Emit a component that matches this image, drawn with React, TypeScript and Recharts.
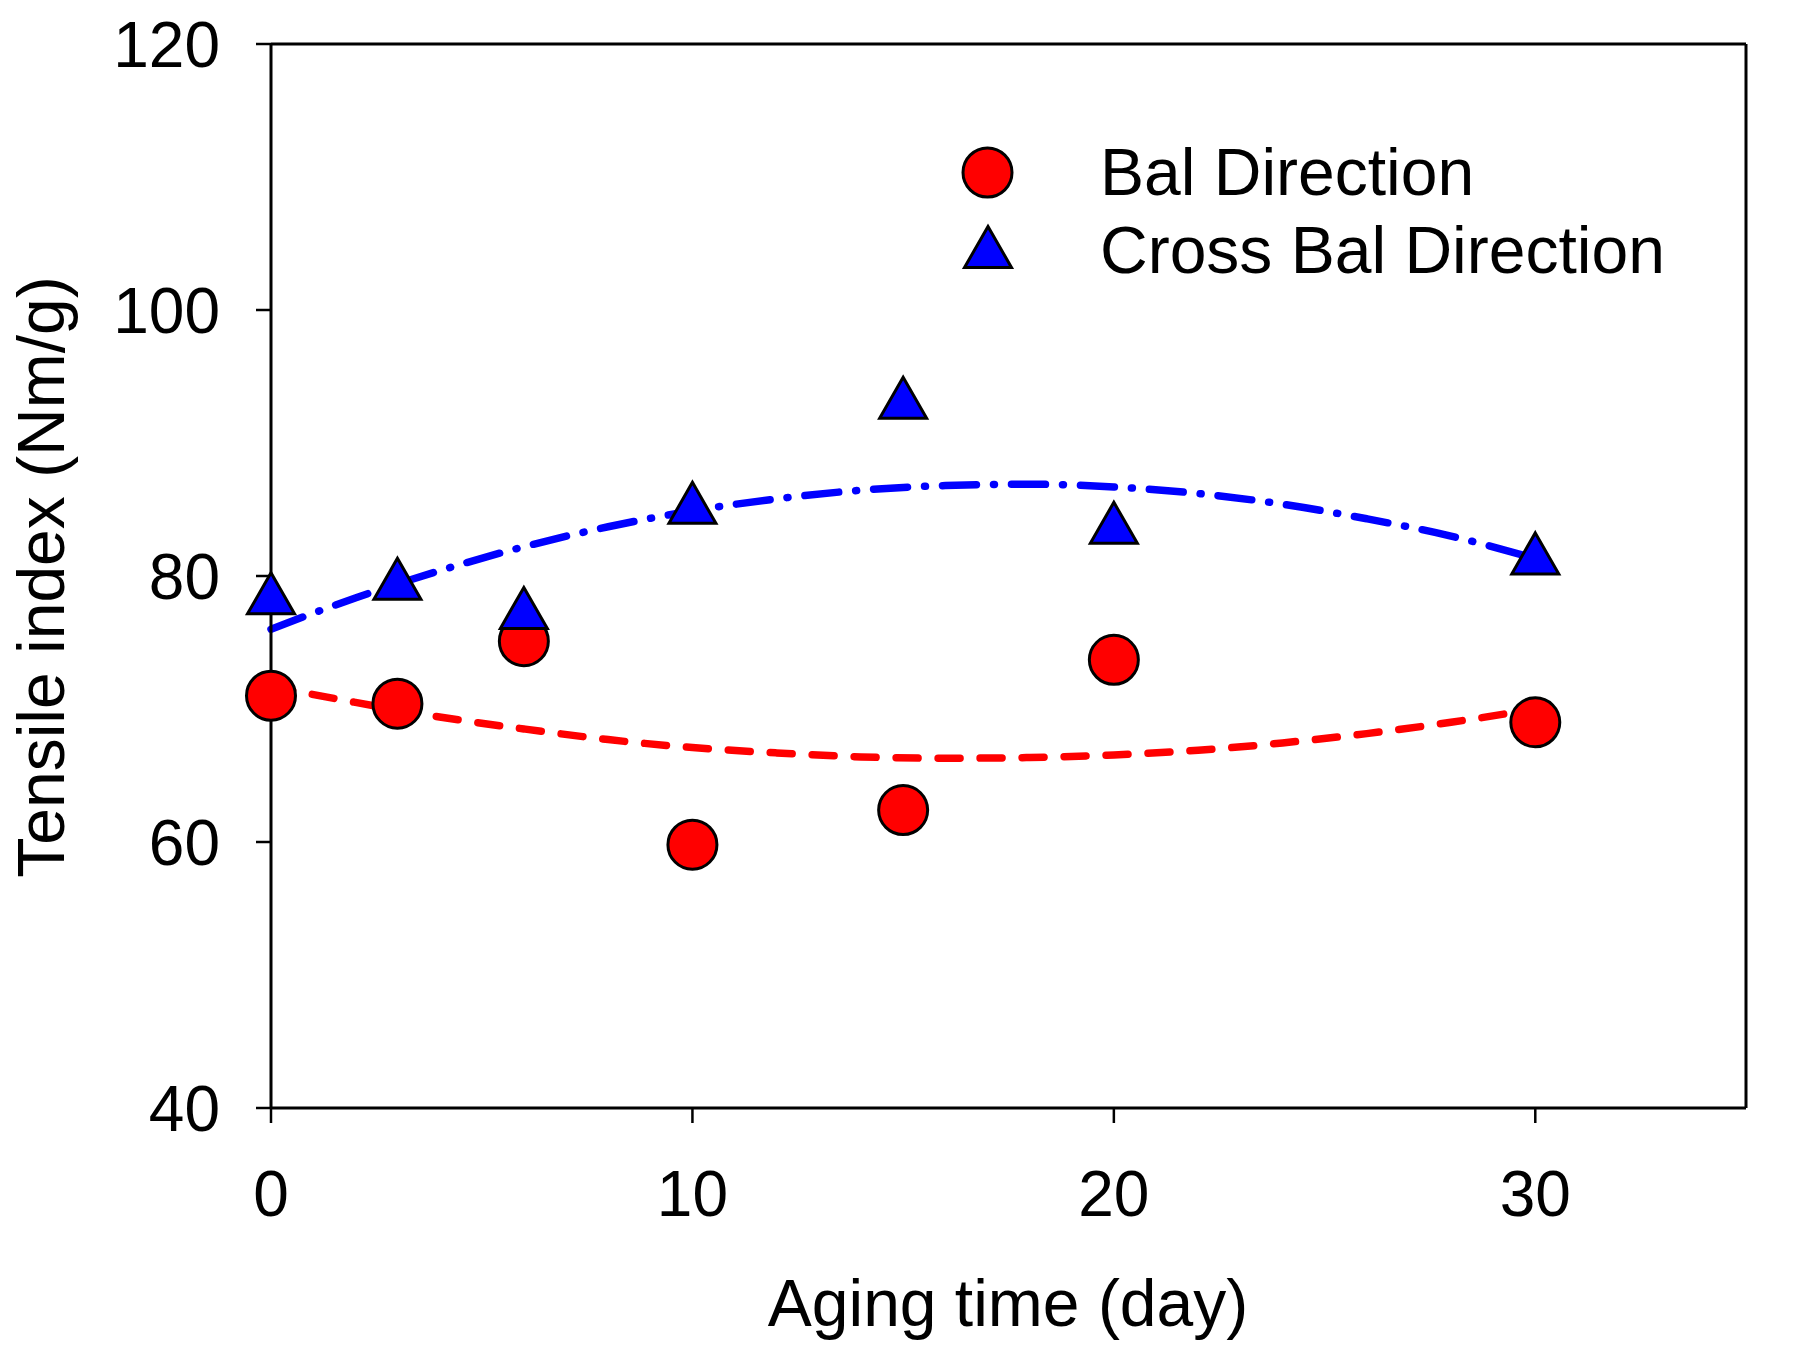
import React from 'react';
import { ComposedChart, XAxis, YAxis, Scatter, Line, ReferenceLine } from 'recharts';

const FONT = '"Liberation Sans", Arial, Helvetica, sans-serif';

// measured points
const agingDays = [0, 3, 6, 10, 15, 20, 30];
const balDirection = [71.0, 70.4, 75.1, 59.8, 62.4, 73.7, 69.0];
const crossBalDirection = [78.7, 79.8, 77.6, 85.5, 93.4, 84.0, 81.7];

// fitted curves
const fitDays = [0, 2, 4, 6, 8, 10, 12, 14, 16, 18, 20, 22, 24, 26, 28, 30];
const balFit = [71.7, 70.5, 69.4, 68.5, 67.7, 67.1, 66.7, 66.4, 66.3, 66.35, 66.55, 66.9, 67.45, 68.15, 69.0, 70.0];
const crossFit = [76.0, 78.35, 80.4, 82.2, 83.7, 84.9, 85.8, 86.45, 86.8, 86.9, 86.7, 86.2, 85.4, 84.3, 83.0, 81.3];

const xTicks = [0, 10, 20, 30];
const yTicks = [40, 60, 80, 100, 120];

const balPoints = agingDays.map((x, i) => ({ x, y: balDirection[i] }));
const crossPoints = agingDays.map((x, i) => ({ x, y: crossBalDirection[i] }));
const balFitPts = fitDays.map((x, i) => ({ x, y: balFit[i] }));
const crossFitPts = fitDays.map((x, i) => ({ x, y: crossFit[i] }));

const CircleShape = (props: any) => {
  const { cx, cy } = props;
  return <circle cx={cx} cy={cy} r={24.5} fill="#ff0000" stroke="#000" strokeWidth={3} />;
};

const triPath = (cx: number, cy: number) =>
  `M${cx},${cy - 20.5} L${cx + 23.5},${cy + 20.5} L${cx - 23.5},${cy + 20.5} Z`;

const TriangleShape = (props: any) => {
  const { cx, cy } = props;
  return <path d={triPath(cx, cy)} fill="#0000ff" stroke="#000" strokeWidth={3} strokeLinejoin="miter" />;
};

export default function App() {
  return (
    <div style={{ position: 'absolute', left: 0, top: 0, width: 1800, height: 1345, background: '#fff', fontFamily: FONT }}>
      <ComposedChart width={1800} height={1345} margin={{ top: 44, right: 54, bottom: 0, left: 0 }}>
        <XAxis
          type="number"
          dataKey="x"
          domain={[0, 35]}
          ticks={xTicks}
          height={237}
          tickSize={15}
          tickMargin={48}
          axisLine={{ stroke: '#000', strokeWidth: 3 }}
          tickLine={{ stroke: '#000', strokeWidth: 2.5 }}
          tick={{ fontSize: 64, fill: '#000', fontFamily: FONT }}
          label={{
            content: () => (
              <text x={1008} y={1326} textAnchor="middle" fontSize={66} fill="#000" fontFamily={FONT}>
                Aging time (day)
              </text>
            ),
          }}
        />
        <YAxis
          type="number"
          dataKey="y"
          domain={[40, 120]}
          ticks={yTicks}
          width={271}
          tickSize={15}
          tickMargin={36}
          axisLine={{ stroke: '#000', strokeWidth: 3 }}
          tickLine={{ stroke: '#000', strokeWidth: 2.5 }}
          tick={{ fontSize: 64, fill: '#000', fontFamily: FONT }}
          label={{
            content: () => (
              <text x={64} y={577} transform="rotate(-90 64 577)" textAnchor="middle" fontSize={66} fill="#000" fontFamily={FONT}>
                Tensile index (Nm/g)
              </text>
            ),
          }}
        />
        <ReferenceLine y={120} stroke="#000" strokeWidth={3} />
        <ReferenceLine x={35} stroke="#000" strokeWidth={3} />
        <Scatter data={balPoints} dataKey="y" shape={CircleShape} isAnimationActive={false} />
        <Scatter data={crossPoints} dataKey="y" shape={TriangleShape} isAnimationActive={false} />
        <Line
          data={balFitPts}
          dataKey="y"
          type="monotone"
          stroke="#ff0000"
          strokeWidth={7.5}
          strokeDasharray="22 20"
          strokeLinecap="round"
          dot={false}
          activeDot={false}
          isAnimationActive={false}
        />
        <Line
          data={crossFitPts}
          dataKey="y"
          type="monotone"
          stroke="#0000ff"
          strokeWidth={7.5}
          strokeDasharray="34 17 1 17"
          strokeLinecap="round"
          dot={false}
          activeDot={false}
          isAnimationActive={false}
        />
      </ComposedChart>
      <svg width={1800} height={1345} style={{ position: 'absolute', left: 0, top: 0, pointerEvents: 'none' }}>
        <circle cx={987.5} cy={172.5} r={24.5} fill="#ff0000" stroke="#000" strokeWidth={3} />
        <path d={triPath(988, 247)} fill="#0000ff" stroke="#000" strokeWidth={3} />
        <text x={1100} y={195} fontSize={66} fill="#000" fontFamily={FONT}>Bal Direction</text>
        <text x={1100} y={273} fontSize={66} fill="#000" fontFamily={FONT}>Cross Bal Direction</text>
      </svg>
    </div>
  );
}
